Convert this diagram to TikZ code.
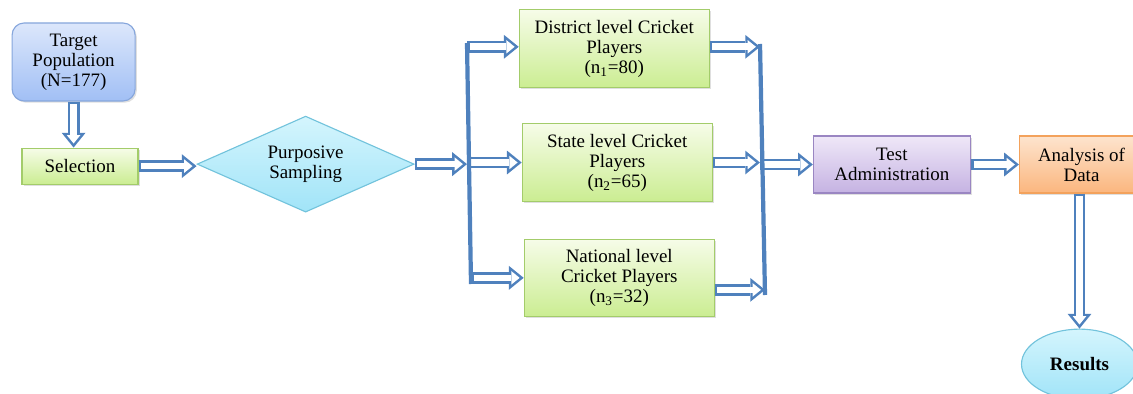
\documentclass[tikz,border=0pt]{standalone}
\usepackage{fontspec}
\setmainfont{Liberation Serif}
\usetikzlibrary{arrows.meta,positioning,shapes.geometric,shadows}

\definecolor{arrowblue}{HTML}{4F81BD}
\definecolor{bluetop}{HTML}{DCE7FB}
\definecolor{bluebot}{HTML}{A1BFF5}
\definecolor{blueline}{HTML}{86A6DC}
\definecolor{greentop}{HTML}{F6FCE8}
\definecolor{greenbot}{HTML}{CBED92}
\definecolor{greenline}{HTML}{A3CC6A}
\definecolor{cyantop}{HTML}{D4F5FD}
\definecolor{cyanbot}{HTML}{A1E4F8}
\definecolor{cyanline}{HTML}{72C3DC}
\definecolor{violettop}{HTML}{EFE8F8}
\definecolor{violetbot}{HTML}{C5B2E2}
\definecolor{violetline}{HTML}{9A86C2}
\definecolor{orangetop}{HTML}{FDE4CE}
\definecolor{orangebot}{HTML}{FBB67E}
\definecolor{orangeline}{HTML}{F3A25C}

\begin{document}
\begin{tikzpicture}[node distance=1cm,
                    font=\fontsize{13.5pt}{14.2pt}\selectfont]
    \tikzstyle{box}=[rectangle,
                     align=center,
                     inner sep=2pt,
                     line width=0.8pt,
                     draw=greenline,
                     top color=greentop,
                     bottom color=greenbot,
                     drop shadow={shadow xshift=1.2pt, shadow yshift=-1.2pt, opacity=0.25}]
    \tikzstyle{hollow}=[draw=arrowblue,
                        line width=8.5pt,
                        -{Triangle[length=10.5pt, width=17pt, line width=0pt]},
                        postaction={draw=white, line width=4.7pt,
                                    shorten <=1.9pt, shorten >=2.9pt,
                                    -{Triangle[length=5.9pt, width=9.6pt, line width=0pt]}}]
    \tikzstyle{bar}=[draw=arrowblue, line width=3pt]

    \useasboundingbox (0,0) rectangle (28.325,-9.85);
    \clip (0,0) rectangle (28.325,-9.85);

    \node[box, draw=blueline, top color=bluetop, bottom color=bluebot,
          rounded corners=0.3cm, minimum width=3.075cm, minimum height=1.95cm]
          (target) at (1.84,-1.55) {Target\\Population\\(N=177)};
    \node[box, minimum width=2.9cm, minimum height=0.9cm]
          (selection) [below=1.15cm of target, xshift=0.16cm] {Selection};
    \node[diamond, shape aspect=2.26, align=center, inner sep=0pt,
          line width=0.8pt, draw=cyanline, top color=cyantop, bottom color=cyanbot,
          minimum width=5.425cm, minimum height=2.4cm]
          (sampling) [right=1.45cm of selection, yshift=0.05cm] {Purposive\\Sampling};

    \node[box, minimum width=4.75cm, minimum height=1.93cm]
          (state) [right=2.675cm of sampling, yshift=0.04cm] {State level Cricket\\Players\\(n\textsubscript{2}=65)};
    \node[box, minimum width=4.75cm, minimum height=1.95cm]
          (district) [above=0.875cm of state, xshift=-0.075cm] {District level Cricket\\Players\\(n\textsubscript{1}=80)};
    \node[box, minimum width=4.75cm, minimum height=1.93cm]
          (national) [below=0.925cm of state, xshift=0.05cm] {National level\\Cricket Players\\(n\textsubscript{3}=32)};

    \node[box, draw=violetline, top color=violettop, bottom color=violetbot,
          minimum width=3.925cm, minimum height=1.425cm]
          (test) [right=2.5cm of state, yshift=-0.05cm] {Test\\Administration};
    \node[box, draw=orangeline, top color=orangetop, bottom color=orangebot,
          minimum width=3.1cm, minimum height=1.425cm]
          (analysis) [right=1.2cm of test] {Analysis of\\Data};
    \node[ellipse, line width=0.8pt, draw=cyanline, top color=cyantop, bottom color=cyanbot,
          minimum width=2.9cm, minimum height=1.75cm, font=\fontsize{13.5pt}{14.2pt}\selectfont\bfseries]
          (results) [below=3.375cm of analysis, xshift=-0.05cm] {Results};

    % the two collecting bars
    \coordinate (lbartop) at (11.675,-1.075);
    \coordinate (lbarbot) at (11.775,-7.1);
    \coordinate (rbartop) at (19.0,-1.1);
    \coordinate (rbarbot) at (19.125,-7.375);

    \draw[hollow] (target.south) -- (target.south |- selection.north);
    \draw[hollow] (selection.east) -- (selection.east -| sampling.west);
    \draw[hollow] (sampling.east) -- (sampling.east -| lbartop);

    \draw[hollow] ([yshift=0.05cm]district.west -| lbartop) -- ([yshift=0.05cm]district.west);
    \draw[hollow] (state.west -| lbartop) -- (state.west);
    \draw[hollow] (national.west -| lbarbot) -- (national.west);

    \draw[hollow] ([yshift=0.05cm]district.east) -- ([yshift=0.05cm]district.east -| rbartop);
    \draw[hollow] (state.east) -- (state.east -| rbartop);
    \draw[hollow] ([yshift=-0.3cm]national.east) -- ([yshift=-0.3cm]national.east -| rbarbot);

    \draw[hollow] (test.west -| rbartop) -- (test.west);
    \draw[hollow] (test.east) -- (analysis.west);
    \draw[hollow] (results.north |- analysis.south) -- (results.north);

    \draw[bar] (lbartop) -- (lbarbot);
    \draw[bar] (rbartop) -- (rbarbot);
\end{tikzpicture}
\end{document}
